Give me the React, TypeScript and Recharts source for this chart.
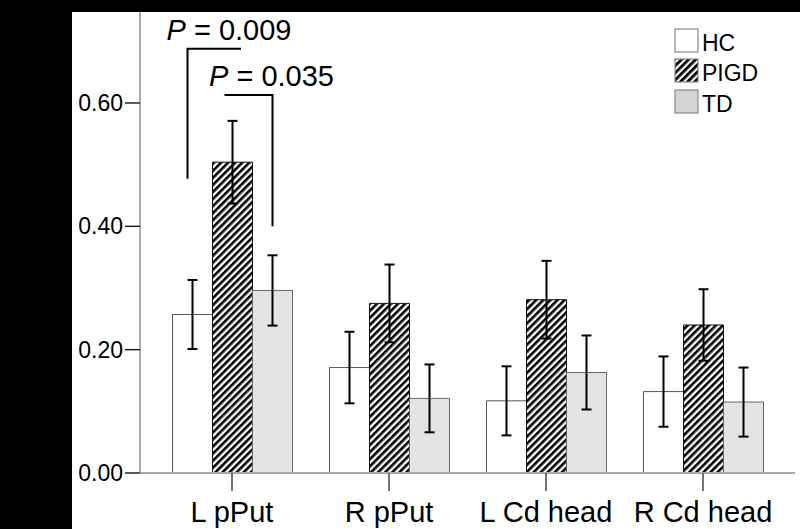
import React from 'react';
import { BarChart, Bar, XAxis, YAxis, ErrorBar, Legend } from 'recharts';

const categories = ['L pPut', 'R pPut', 'L Cd head', 'R Cd head'];
const hcValues = [0.257, 0.171, 0.117, 0.132];
const hcErrors = [0.056, 0.058, 0.056, 0.057];
const pigdValues = [0.504, 0.275, 0.281, 0.24];
const pigdErrors = [0.067, 0.063, 0.063, 0.058];
const tdValues = [0.296, 0.121, 0.163, 0.115];
const tdErrors = [0.057, 0.055, 0.06, 0.056];
const yTicks = [0, 0.2, 0.4, 0.6];
const seriesNames = ['HC', 'PIGD', 'TD'];
const pLabels = ['0.009', '0.035'];

const data = categories.map((c, i) => ({
  name: c,
  hc: hcValues[i],
  hcErr: hcErrors[i],
  pigd: pigdValues[i],
  pigdErr: pigdErrors[i],
  td: tdValues[i],
  tdErr: tdErrors[i],
}));

const FONT = '"Liberation Sans", Arial, sans-serif';

const SigLabel = (props: any) => {
  const { x, y, width, height, index } = props;
  if (index !== 0) return null;
  const v = pigdValues[0];
  const base = y + height;
  const ppu = height / v;
  const Y = (val: number) => base - val * ppu;
  const c = x + width / 2;
  const w = width;
  return (
    <g>
      <text x={c - 66} y={Y(0.7025)} fontSize={29} fill="#000" fontFamily={FONT}>
        <tspan fontStyle="italic">P</tspan>
        <tspan>{' = ' + pLabels[0]}</tspan>
      </text>
      <polyline
        points={`${c - w - 5},${Y(0.477)} ${c - w - 5},${Y(0.688)} ${c + 8.5},${Y(0.688)}`}
        fill="none"
        stroke="#000"
        strokeWidth={2}
      />
      <text x={c - 23.5} y={Y(0.628)} fontSize={29} fill="#000" fontFamily={FONT}>
        <tspan fontStyle="italic">P</tspan>
        <tspan>{' = ' + pLabels[1]}</tspan>
      </text>
      <polyline
        points={`${c - 8},${Y(0.613)} ${c + w},${Y(0.613)} ${c + w},${Y(0.4)}`}
        fill="none"
        stroke="#000"
        strokeWidth={2}
      />
    </g>
  );
};

const legendFills = ['#ffffff', 'url(#stripesLegend)', '#d4d4d4'];

const renderLegend = () => (
  <div style={{ display: 'flex', flexDirection: 'column', fontFamily: FONT }}>
    {seriesNames.map((n, i) => (
      <div key={n} style={{ display: 'flex', alignItems: 'center', height: 30.5 }}>
        <svg width={25} height={25} style={{ display: 'block' }}>
          <defs>
            <pattern
              id="stripesLegend"
              patternUnits="userSpaceOnUse"
              width={5}
              height={5}
              patternTransform="rotate(45)"
            >
              <rect x={0} y={0} width={5} height={5} fill="#fff" />
              <rect x={0} y={0} width={2.8} height={5} fill="#000" />
            </pattern>
          </defs>
          <rect x={1} y={1} width={23} height={23} fill={legendFills[i]} stroke="#888" strokeWidth={1.2} />
        </svg>
        <span style={{ fontSize: 23, color: '#000', marginLeft: 3, position: 'relative', top: 3 }}>{n}</span>
      </div>
    ))}
  </div>
);

export default function App() {
  return (
    <div
      style={{
        position: 'absolute',
        left: 0,
        top: 0,
        width: 800,
        height: 529,
        background: '#000',
        overflow: 'hidden',
        fontFamily: FONT,
      }}
    >
      <div style={{ position: 'absolute', left: 72, top: 12, width: 728, height: 517, background: '#fff' }} />
      <div style={{ position: 'absolute', left: 0, top: 0 }}>
        <BarChart
          width={800}
          height={529}
          data={data}
          margin={{ top: 12, right: 5, bottom: 0, left: 0 }}
          barCategoryGap={19}
          barGap={0}
        >
          <defs>
            <pattern
              id="stripes"
              patternUnits="userSpaceOnUse"
              width={5}
              height={5}
              patternTransform="rotate(45)"
            >
              <rect x={0} y={0} width={5} height={5} fill="#fff" />
              <rect x={0} y={0} width={2.6} height={5} fill="#000" />
            </pattern>
          </defs>
          <XAxis
            dataKey="name"
            height={56}
            padding={{ left: 13.5, right: 13.5 }}
            axisLine={{ stroke: '#a8a8a8', strokeWidth: 2 }}
            tickLine={{ stroke: '#444', strokeWidth: 1.5 }}
            tickSize={18}
            tickMargin={10}
            tick={{ fontSize: 29, fill: '#000', fontFamily: FONT }}
            interval={0}
          />
          <YAxis
            width={140}
            domain={[0, 0.7475]}
            ticks={yTicks}
            allowDataOverflow
            tickFormatter={(v: number) => v.toFixed(2)}
            axisLine={{ stroke: '#a8a8a8', strokeWidth: 2 }}
            tickLine={{ stroke: '#222', strokeWidth: 1.5 }}
            tickSize={15}
            tickMargin={2}
            tick={{ fontSize: 23, fill: '#000', fontFamily: FONT }}
          />
          <Legend
            layout="vertical"
            align="center"
            verticalAlign="middle"
            content={renderLegend}
            wrapperStyle={{ position: 'absolute', top: 25, left: 674, width: 'auto', height: 'auto' }}
          />
          <Bar dataKey="hc" name="HC" fill="#ffffff" stroke="#555" strokeWidth={1} isAnimationActive={false}>
            <ErrorBar dataKey="hcErr" width={5} stroke="#000" strokeWidth={2} isAnimationActive={false} />
          </Bar>
          <Bar
            dataKey="pigd"
            name="PIGD"
            fill="url(#stripes)"
            stroke="#111"
            strokeWidth={1}
            isAnimationActive={false}
            label={<SigLabel />}
          >
            <ErrorBar dataKey="pigdErr" width={5} stroke="#000" strokeWidth={2} isAnimationActive={false} />
          </Bar>
          <Bar dataKey="td" name="TD" fill="#e3e3e3" stroke="#666" strokeWidth={1} isAnimationActive={false}>
            <ErrorBar dataKey="tdErr" width={5} stroke="#000" strokeWidth={2} isAnimationActive={false} />
          </Bar>
        </BarChart>
      </div>
    </div>
  );
}
